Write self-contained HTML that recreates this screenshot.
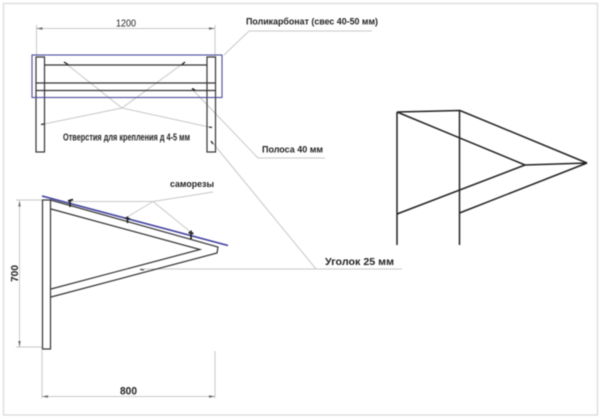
<!DOCTYPE html>
<html><head><meta charset="utf-8"><style>
html,body{margin:0;padding:0;background:#fff;width:600px;height:418px;overflow:hidden}
svg{display:block;filter:blur(.45px)}
text{font-family:"Liberation Sans",sans-serif;fill:#222}
</style></head><body>
<svg width="600" height="418" viewBox="0 0 600 418" xmlns="http://www.w3.org/2000/svg">
<rect width="600" height="418" fill="#fff"/>
<rect x="3.500" y="3.500" width="594" height="411.500" fill="none" stroke="#d8d8d8" stroke-width="1.200"/>

<!-- leaders and dimension lines -->
<g fill="none" stroke="#c8c8c8" stroke-width="1">
<path d="M36.500 25V56M215 25V56M36.500 28.500H215"/>
<path d="M224 55L249 31H372"/>
<path d="M192 89L258 158H325"/>
<path d="M212 142L316 269"/>
<path d="M140 269H402"/>
<path d="M64 62L122 108L209 127M185 62L122 108L44 124"/>
<path d="M70 201.500H153L213 192M153 201.500L128 216.500M153 201.500L190 231.500"/>
<path d="M16 200H42M16 347H42M19.500 201V347"/>
<path d="M42 350V398M215 351V398M42 396.500H215"/>
</g>
<!-- dimension arrowheads -->
<g fill="#666">
<path d="M36.500 28.500l6-1.200v2.400zM215 28.500l-6-1.200v2.400z"/>
<path d="M42 396.500l6-1.200v2.400zM215 396.500l-6-1.200v2.400z"/>
<path d="M19.500 200.500l-1.200 6h2.400zM19.500 347l-1.200-6h2.400z"/>
</g>

<!-- top view -->
<g fill="none" stroke="#333" stroke-width="1.200">
<rect x="36" y="57" width="8.500" height="95"/>
<rect x="207" y="57" width="8.500" height="95"/>
<path d="M44 65H207M36 83H215M36 90.500H215"/>
</g>
<rect x="32" y="55" width="190" height="42.500" fill="none" stroke="#4a4a9c" stroke-width="1.100"/>
<g stroke="#222" stroke-width="1.300">
<path d="M64 62l4 2.500M185 62l-3 2.500M192 88.500l3 1.500M209 127l3 .5M44 124l-3 .5M211 141l2 3"/>
</g>

<!-- side view -->
<g fill="none" stroke="#333" stroke-width="1.200">
<rect x="42.500" y="200" width="8" height="149"/>
<path d="M50.500 200L218 247L217 253L51 297M51 209L200 249.500L51 289"/>
</g>
<path d="M42 196L228 245.500" stroke="#3d3d9e" stroke-width="1.600" fill="none"/>
<g stroke="#222" stroke-width="1.700">
<path d="M70 200.500v6.500M127.500 216.500v6.500M191 230.500v8.500M68 201l5-1.500M125 218l5 1M188.500 232.500l5 1"/>
</g>
<path d="M140 269.500l4 .5" stroke="#333" stroke-width="1"/>

<!-- 3D view -->
<g fill="none" stroke="#222" stroke-width="1.500">
<path d="M397 112V245M459.500 110.500V245"/>
<path d="M397 112L460 110.500L587 163L525 165L397 112"/>
<path d="M525 165L397 214M587 163L459.500 213"/>
</g>

<!-- labels -->
<text x="116" y="26.500" font-size="10" textLength="20" lengthAdjust="spacingAndGlyphs">1200</text>
<text x="246" y="24.500" font-size="9" font-weight="bold" textLength="132" lengthAdjust="spacingAndGlyphs">Поликарбонат (свес 40-50 мм)</text>
<text x="262" y="152.500" font-size="9.500" font-weight="bold" textLength="61" lengthAdjust="spacingAndGlyphs">Полоса 40 мм</text>
<text x="63" y="140.500" font-size="10" font-weight="bold" textLength="127" lengthAdjust="spacingAndGlyphs">Отверстия для крепления д 4-5 мм</text>
<text x="170" y="187" font-size="9.500" font-weight="bold" textLength="44" lengthAdjust="spacingAndGlyphs">саморезы</text>
<text x="325" y="265" font-size="10.500" font-weight="bold" textLength="69" lengthAdjust="spacingAndGlyphs">Уголок 25 мм</text>
<text x="120" y="394.500" font-size="11" font-weight="bold" textLength="17" lengthAdjust="spacingAndGlyphs">800</text>
<text transform="translate(18 282) rotate(-90)" font-size="10.500" font-weight="bold" textLength="17" lengthAdjust="spacingAndGlyphs">700</text>
</svg>
</body></html>
